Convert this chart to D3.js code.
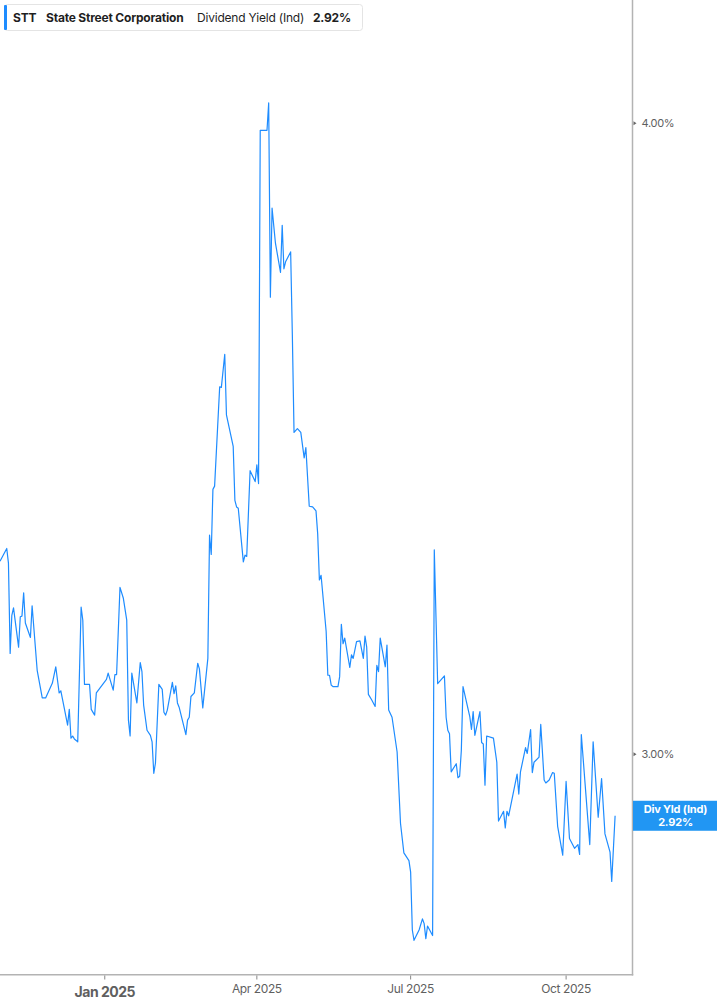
<!DOCTYPE html>
<html>
<head>
<meta charset="utf-8">
<script src="https://cdn.jsdelivr.net/npm/d3@7"></script>
<style>
  html, body { margin: 0; padding: 0; background: #ffffff; }
  svg { display: block; }
</style>
</head>
<body>
<svg id="chart" width="717" height="1005"></svg>
<script>
// ---- data ----
const ticker = "STT";
const companyName = "State Street Corporation";
const metricName = "Dividend Yield (Ind)";
const lastValueLabel = "2.92%";
const badgeTitle = "Div Yld (Ind)";

// days counted from 2025-01-01 (negative = late 2024)
const dayOffsets = [
  -62,-58,-57,-56,-55,-54,-51,-50,-49,-48,-47,-44,-43,-40,-37,-35,-31,-29,-27,-26,
  -24,-22,-21,-20,-19,-18,-16,-14,-13,-12,-9,-8,-6,-5,1,2,5,6,7,9,
  11,13,14,15,16,19,21,22,23,25,27,28,29,30,32,34,35,36,37,40,
  41,42,43,44,48,49,50,51,53,55,56,58,61,62,63,64,65,68,69,71,
  72,76,77,78,79,82,83,84,86,89,90,91,92,96,97,98,99,101,104,105,
  106,107,110,111,112,114,116,118,119,121,123,125,126,127,128,131,132,133,134,135,
  138,139,140,141,142,145,146,147,149,151,153,154,155,156,158,160,161,162,163,166,
  167,168,170,173,175,177,180,181,182,183,186,188,189,190,191,194,195,197,201,202,
  203,204,205,208,209,210,211,212,216,217,218,219,222,223,224,225,226,230,232,233,
  236,237,238,239,244,245,246,249,250,252,253,254,257,258,260,261,263,265,266,268,
  271,273,275,278,280,281,282,287,289,292,294,296,299,300,302
];
const yieldValues = [
  3.276,3.295,3.273,3.141,3.196,3.207,3.150,3.194,3.195,3.229,3.185,3.164,3.210,3.117,3.078,3.078,3.099,3.122,3.085,3.088,
  3.064,3.040,3.062,3.022,3.025,3.021,3.017,3.208,3.189,3.097,3.097,3.062,3.054,3.085,3.104,3.113,3.089,3.111,3.111,3.237,
  3.221,3.189,3.047,3.025,3.113,3.071,3.128,3.115,3.068,3.033,3.026,3.017,2.974,2.988,3.097,3.090,3.058,3.054,3.061,3.100,
  3.084,3.095,3.071,3.065,3.027,3.047,3.051,3.080,3.085,3.127,3.119,3.064,3.134,3.315,3.286,3.385,3.390,3.547,3.546,3.600,
  3.502,3.452,3.368,3.358,3.356,3.275,3.285,3.283,3.414,3.397,3.423,3.394,3.987,3.987,4.037,3.695,3.848,3.787,3.737,3.818,
  3.743,3.755,3.772,3.632,3.474,3.480,3.474,3.434,3.450,3.359,3.358,3.352,3.317,3.248,3.255,3.173,3.110,3.110,3.096,3.094,
  3.094,3.108,3.183,3.155,3.163,3.121,3.139,3.134,3.158,3.159,3.134,3.166,3.150,3.083,3.075,3.066,3.124,3.115,3.163,3.122,
  3.153,3.061,3.051,3.003,2.907,2.868,2.858,2.843,2.769,2.756,2.769,2.783,2.777,2.758,2.774,2.762,3.293,3.098,3.109,3.051,
  3.033,3.028,2.976,2.987,2.968,2.970,3.005,3.094,3.052,3.034,3.059,3.026,3.059,3.016,3.014,2.958,3.025,3.022,2.989,2.910,
  2.923,2.901,2.923,2.917,2.973,2.946,2.976,3.009,3.001,3.034,2.975,2.989,2.996,3.041,2.965,2.961,2.965,2.975,2.974,2.903,
  2.865,2.963,2.887,2.874,2.879,2.866,3.027,2.879,3.017,2.915,2.967,2.893,2.869,2.831,2.917
];
const yTickValues = [3.0, 4.0];
const xTickDates = ["2025-01-01", "2025-04-01", "2025-07-01", "2025-10-01"];
const xDomain = ["2024-10-31", "2025-11-09"];
const yDomain = [2.714, 4.231];

// ---- layout ----
const W = 717, H = 1005;
const plot = { left: 0, right: 632, top: 0, bottom: 974 };
const lineColor = "#1e8cff";
const axisColor = "#b3b3b3";
const textColor = "#5f5f5f";
const axisFont = "Inter, Roboto, 'Noto Sans', sans-serif";

const base = Date.UTC(2025, 0, 1);
const data = dayOffsets.map((d, i) => ({
  date: new Date(base + d * 86400000),
  value: yieldValues[i]
}));

const svg = d3.select("#chart");

const x = d3.scaleUtc()
  .domain(xDomain.map(s => new Date(s + "T00:00:00Z")))
  .range([plot.left, plot.right]);
const y = d3.scaleLog()
  .domain(yDomain)
  .range([plot.bottom, plot.top]);

// line
const line = d3.line()
  .x(d => x(d.date))
  .y(d => y(d.value));

svg.append("path")
  .datum(data)
  .attr("fill", "none")
  .attr("stroke", lineColor)
  .attr("stroke-width", 1.2)
  .attr("stroke-linejoin", "round")
  .attr("d", line);

// right axis line
svg.append("line")
  .attr("x1", plot.right + 0.5).attr("x2", plot.right + 0.5)
  .attr("y1", plot.top).attr("y2", plot.bottom + 1.5)
  .attr("stroke", axisColor).attr("stroke-width", 1.5);

// bottom axis line
svg.append("line")
  .attr("x1", plot.left).attr("x2", plot.right + 1.25)
  .attr("y1", plot.bottom + 0.75).attr("y2", plot.bottom + 0.75)
  .attr("stroke", axisColor).attr("stroke-width", 1.5);

// right y ticks
const yAxis = svg.append("g");
yTickValues.forEach(v => {
  const yy = y(v);
  yAxis.append("path")
    .attr("d", `M${plot.right + 1.5},${yy - 2}L${plot.right + 4.5},${yy}L${plot.right + 1.5},${yy + 2}Z`)
    .attr("fill", "#666");
  yAxis.append("text")
    .attr("x", plot.right + 9.5)
    .attr("y", yy)
    .attr("dy", "0.36em")
    .attr("font-family", axisFont)
    .attr("font-size", 11)
    .attr("letter-spacing", "-0.3")
    .attr("fill", textColor)
    .text(v.toFixed(2) + "%");
});

// bottom x ticks
const fmt = d3.utcFormat("%b %Y");
const xAxis = svg.append("g");
xTickDates.forEach((s, i) => {
  const dt = new Date(s + "T00:00:00Z");
  const xx = x(dt);
  xAxis.append("line")
    .attr("x1", xx).attr("x2", xx)
    .attr("y1", plot.bottom + 1.5).attr("y2", plot.bottom + 5.5)
    .attr("stroke", "#888").attr("stroke-width", 1);
  const isYear = dt.getUTCMonth() === 0;
  xAxis.append("text")
    .attr("x", xx)
    .attr("y", isYear ? 996.5 : 993)
    .attr("text-anchor", "middle")
    .attr("font-family", axisFont)
    .attr("font-size", isYear ? 14 : 12)
    .attr("font-weight", isYear ? "bold" : "normal")
    .attr("letter-spacing", isYear ? "-0.5" : "-0.4")
    .attr("fill", textColor)
    .text(fmt(dt));
});

// last value badge
const lastY = y(data[data.length - 1].value);
const badge = svg.append("g");
badge.append("rect")
  .attr("x", plot.right + 1)
  .attr("y", lastY - 15)
  .attr("width", W - plot.right - 1)
  .attr("height", 30)
  .attr("fill", "#2196f3");
badge.append("text")
  .attr("x", (plot.right + W) / 2 + 1)
  .attr("y", lastY - 3)
  .attr("text-anchor", "middle")
  .attr("font-family", axisFont)
  .attr("font-size", 11)
  .attr("font-weight", "bold")
  .attr("letter-spacing", "-0.2")
  .attr("fill", "#ffffff")
  .text(badgeTitle);
badge.append("text")
  .attr("x", (plot.right + W) / 2 + 1)
  .attr("y", lastY + 10)
  .attr("text-anchor", "middle")
  .attr("font-family", axisFont)
  .attr("font-size", 11)
  .attr("font-weight", "bold")
  .attr("letter-spacing", "-0.2")
  .attr("fill", "#ffffff")
  .text(lastValueLabel);

// legend box
const legend = svg.append("g");
legend.append("rect")
  .attr("x", 4.5).attr("y", 4.5)
  .attr("width", 358).attr("height", 26)
  .attr("rx", 3)
  .attr("fill", "#ffffff")
  .attr("stroke", "#e4e4e4");
legend.append("rect")
  .attr("x", 4).attr("y", 5)
  .attr("width", 3).attr("height", 25)
  .attr("rx", 1)
  .attr("fill", lineColor);
const legendFont = "Inter, Roboto, sans-serif";
const legendItems = [
  { text: ticker, x: 13, weight: "bold" },
  { text: companyName, x: 46, weight: "bold" },
  { text: metricName, x: 197, weight: "normal" },
  { text: lastValueLabel, x: 313, weight: "bold" }
];
legend.selectAll("text.leg")
  .data(legendItems)
  .enter().append("text")
  .attr("class", "leg")
  .attr("x", d => d.x)
  .attr("y", 21.5)
  .attr("font-family", legendFont)
  .attr("font-size", 12)
  .attr("font-weight", d => d.weight)
  .attr("letter-spacing", "-0.2")
  .attr("fill", "#1f1f1f")
  .text(d => d.text);
</script>
</body>
</html>
